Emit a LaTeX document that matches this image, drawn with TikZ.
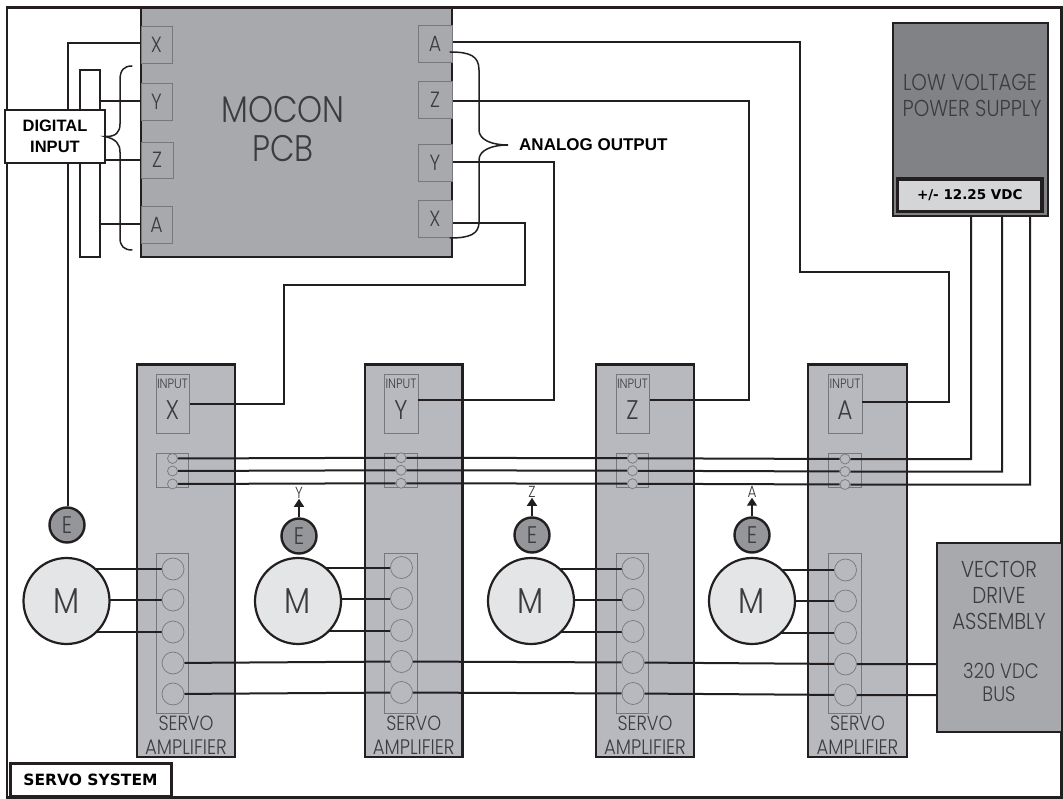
\documentclass[tikz,border=0pt]{standalone}
\usepackage{fontspec}
\setmainfont{Liberation Sans}
\newfontfamily\thinf[FakeStretch=0.86]{Poppins Light}
\newfontfamily\boldf{DejaVu Sans Bold}
\usetikzlibrary{arrows.meta,calc}
\definecolor{ink}{HTML}{231F20}
\definecolor{txt}{HTML}{3C3C3E}
\definecolor{pcb}{HTML}{A7A9AC}
\definecolor{ampc}{HTML}{B8B9BE}
\definecolor{psu}{HTML}{808285}
\definecolor{lab}{HTML}{D4D5D7}
\definecolor{mot}{HTML}{E4E5E7}
\definecolor{enc}{HTML}{94969A}
\definecolor{edge}{HTML}{77787B}
\pgfdeclarelayer{under}\pgfdeclarelayer{wires}
\pgfsetlayers{under,wires,main}
\newcommand\fs[1]{\fontsize{#1}{#1}\selectfont}
\newcommand\bx[7]{%
 \pgfmathsetmacro\bxcx{(#2+#4)/2}\pgfmathsetmacro\bxcy{(#3+#5)/2}%
 \pgfmathsetmacro\bxw{#4-#2}\pgfmathsetmacro\bxh{#5-#3}%
 \node[#6,minimum width=\bxw pt,minimum height=\bxh pt,inner sep=0pt,outer sep=0pt] (#1) at (\bxcx,\bxcy) {#7};}
\tikzset{
 wire/.style={draw=ink,line width=2pt,line join=miter},
 brace/.style={draw=ink,line width=1.5pt,line cap=round},
 port/.style={draw=edge,line width=.7pt,fill=pcb,text=txt,font=\thinf\fs{22}},
 inbox/.style={draw=edge,line width=.7pt,fill=ampc},
 pin/.style={circle,draw=edge,line width=.7pt,fill=ampc,inner sep=0pt,minimum size=#1},
 caption/.style={text=txt,font=\thinf\fs{#1},inner sep=0pt},
 motor/.style={circle,draw=ink,line width=2.2pt,fill=mot,minimum size=86pt,inner sep=0pt,text=txt,font=\thinf\fs{36}},
 encoder/.style={circle,draw=ink,line width=2.4pt,fill=enc,minimum size=35pt,inner sep=0pt,text=txt,font=\thinf\fs{24}},
 tagbold/.style={font=\bfseries\fs{17},align=center,inner sep=0pt},
 tagsmall/.style={font=\bfseries\fs{16.5},align=center,inner sep=0pt},
 uparrow/.style={draw=ink,line width=1.5pt,-{Triangle[length=8pt,width=10pt]}},
}
% prefix, left, right, inner box left, letter, y offset of the drive pins
\newcommand\amp[6]{%
 \begin{pgfonlayer}{under}
 \bx{#1box}{#2}{364.5}{#3}{757}{draw=ink,line width=2.8pt,fill=ampc}{}
 \bx{#1in}{#4}{374}{#4+33.5}{433.5}{inbox}{}
 \bx{#1term}{#4}{453.5}{#4+32.5}{487.5}{inbox}{}
 \bx{#1drv}{#4}{553}{#4+32.5}{713}{inbox}{}
 \end{pgfonlayer}
 \pgfmathsetmacro\axc{#4+16.5}
 \node[caption=13.5] (#1inl) at (\axc,383.5) {INPUT};
 \node[caption=27] (#1let) at (\axc,410) {#5};
 \node[caption=20.5] (#1sa) at ($(#1box.center)+(0,162.5)$) {SERVO};
 \node[caption=21] (#1sb) at ($(#1box.center)+(0,186.5)$) {AMPLIFIER};
 \foreach \n/\yy in {1/458.5,2/471,3/484}{\node[pin=10pt] (#1t\n) at (\axc,\yy+#6/2) {};}
 \foreach \n/\yy in {1/569,2/600,3/632,4/663,5/694}{\node[pin=22pt] (#1c\n) at (\axc+.5,\yy+#6) {};}
}
\begin{document}
\begin{tikzpicture}[x=1pt,y=-1pt]
\useasboundingbox (0,0) rectangle (1063,799);
\begin{pgfonlayer}{under}
 \fill[white] (0,0) rectangle (1063,799);
 \bx{frame}{7}{7.5}{1061.5}{797.5}{draw=ink,line width=2.4pt}{}
 \bx{mocon}{141}{8}{452}{257}{draw=ink,line width=2.2pt,fill=pcb}{}
 \bx{psu}{893}{23}{1048}{216}{draw=ink,line width=2.4pt,fill=psu}{}
 \bx{vec}{937}{543}{1062}{732}{draw=ink,line width=2.4pt,fill=pcb}{}
\end{pgfonlayer}
% MOCON ports
\bx{lX}{141}{26}{172}{63}{port}{X}
\bx{lY}{141}{83}{172}{120}{port}{Y}
\bx{lZ}{141}{142}{173}{178}{port}{Z}
\bx{lA}{141}{206}{172}{243}{port}{A}
\bx{rA}{418}{25}{452}{62}{port}{A}
\bx{rZ}{418}{81}{452}{118}{port}{Z}
\bx{rY}{418}{144}{452}{181}{port}{Y}
\bx{rX}{418}{200}{452}{237}{port}{X}
\node[caption=37] (mt1) at (283,110) {MOCON};
\node[caption=37] (mt2) at (283,149) {PCB};
% PSU text
\node[caption=23] (pt1) at (970,82) {LOW VOLTAGE};
\node[caption=23] (pt2) at (972,108) {POWER SUPPLY};
\bx{plab}{897.5}{179}{1042}{211.5}{draw=ink,line width=3.6pt,fill=lab,font=\boldf\fs{13.5}}{+/- 12.25 VDC}
% Vector text
\node[caption=23] (v1) at (999,569) {VECTOR};
\node[caption=23] (v2) at (999,595) {DRIVE};
\node[caption=23] (v3) at (999,621) {ASSEMBLY};
\node[caption=21] (v4) at (1001,671) {320 VDC};
\node[caption=21] (v5) at (999,694) {BUS};
% amplifiers
\amp{a}{137}{235}{156}{X}{0}
\amp{b}{365}{462.5}{384.5}{Y}{-1.5}
\amp{c}{596}{694}{616}{Z}{-.5}
\amp{d}{808}{907}{828.5}{A}{1}
% motors and encoders
\node[motor] (m1) at (66.5,601) {M};
\node[motor] (m2) at (298,601) {M};
\node[motor] (m3) at (531,601) {M};
\node[motor] (m4) at (752,601) {M};
\node[encoder] (e1) at (67,525) {E};
\node[encoder] (e2) at (299,536) {E};
\node[encoder] (e3) at (532,535) {E};
\node[encoder] (e4) at (752,535) {E};
\node[caption=16] (ey) at (299,493) {Y};
\node[caption=16] (ez) at (532,492) {Z};
\node[caption=16] (ea) at (752,492) {A};
% tags
\bx{dinp}{5}{110}{105}{163}{draw=ink,line width=1.6pt,fill=white}{}
\node[tagsmall] (tagd) at (55,126) {DIGITAL};
\node[tagsmall] (tagi) at (55,147) {INPUT};
\node[tagbold,anchor=west] (aout) at (519,144.5) {ANALOG OUTPUT};
\bx{sys}{10}{763}{171}{796}{draw=ink,line width=3pt,fill=white,font=\boldf\fs{15.5}}{SERVO SYSTEM}
% braces
\draw[brace] (132,66) .. controls (124,66) and (120,70) .. (120,80) -- (120,124)
  .. controls (120,132) and (116,137) .. (dinp.east)
  .. controls (116,139) and (120,144) .. (120,152) -- (120,238)
  .. controls (120,246) and (124,250) .. (132,250);
\draw[brace] (450,52) .. controls (470,52) and (479,56) .. (479,70) -- (479,130)
  .. controls (479,140) and (492,145) .. (508,145)
  .. controls (492,145) and (479,150) .. (479,160) -- (479,222)
  .. controls (479,234) and (470,238) .. (450,238);
% wires
\begin{pgfonlayer}{wires}
 \bx{bar}{80}{70}{100}{257}{draw=ink,line width=1.6pt,fill=white}{}
 \coordinate (xcorner) at (68,43);
 \draw[wire] (lX.west |- xcorner) -- (xcorner) -- (xcorner |- e1.north);
 \draw[wire] (bar.east |- lY.west) -- (lY.west);
 \draw[wire] (bar.east |- lZ.west) -- (lZ.west);
 \draw[wire] (bar.east |- lA.west) -- (lA.west);
 % MOCON outputs to the amplifier inputs
 \coordinate (oA) at (452,42);
 \coordinate (oAb) at (800,272);
 \coordinate (oAc) at (949,402.5);
 \draw[wire] (oA) -| (oAb) -| (oAc) -- (oAc -| din.east);
 \coordinate (oZ) at (452,101);
 \coordinate (oZc) at (749,400);
 \draw[wire] (oZ) -| (oZc) -- (oZc -| cin.east);
 \coordinate (oY) at (452,162);
 \coordinate (oYc) at (554,400);
 \draw[wire] (oY) -| (oYc) -- (oYc -| bin.east);
 \coordinate (oX) at (452,223);
 \coordinate (oXa) at (525,285);
 \coordinate (oXc) at (284,404);
 \draw[wire] (oX) -| (oXa) -| (oXc) -- (oXc -| ain.east);
 % supply rails
 \coordinate (s1) at ($(psu.south west)+(78,0)$);
 \coordinate (s2) at ($(psu.south west)+(109,0)$);
 \coordinate (s3) at ($(psu.south west)+(137,0)$);
 \draw[wire] (at1) -- (bt1) -- (ct1) -- (dt1) -| (s1);
 \draw[wire] (at2) -- (bt2) -- (ct2) -- (dt2) -| (s2);
 \draw[wire] (at3) -- (bt3) -- (ct3) -- (dt3) -| (s3);
 % bus
 \draw[wire] (ac4) -- (bc4) -- (cc4) -- (dc4) -- (dc4 -| vec.west);
 \draw[wire] (ac5) -- (bc5) -- (cc5) -- (dc5) -- (dc5 -| vec.west);
 % motor leads
 \foreach \mm/\pp in {m1/a,m2/b,m3/c,m4/d}{
  \foreach \k in {1,2,3}{
   \draw[wire] (\mm |- \pp c\k) -- (\pp c\k);
  }
 }
 % encoder outputs
 \draw[uparrow] (e2.north) -- (ey.south);
 \draw[uparrow] (e3.north) -- (ez.south);
 \draw[uparrow] (e4.north) -- (ea.south);
\end{pgfonlayer}
\end{tikzpicture}
\end{document}
